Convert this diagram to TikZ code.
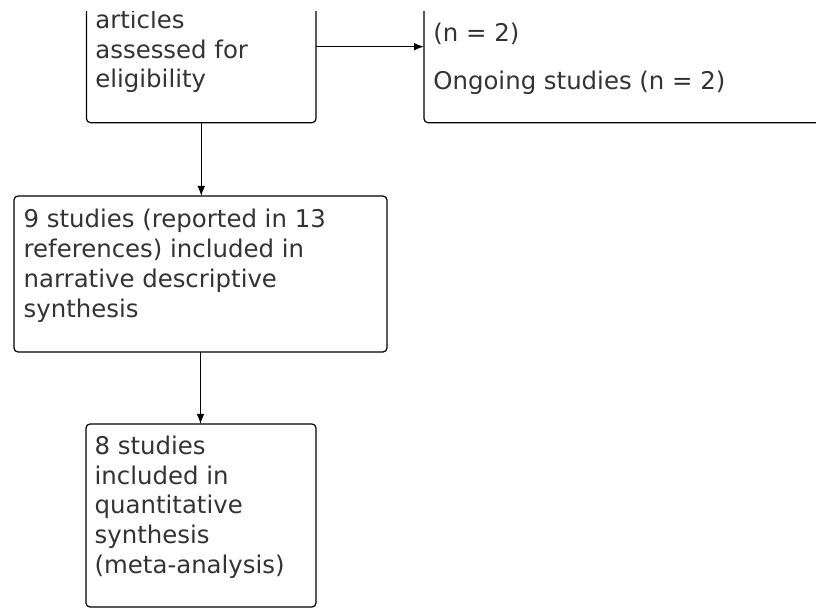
\documentclass[tikz,border=0pt]{standalone}
\usepackage{fontspec}
\setmainfont{DejaVu Sans}
\usetikzlibrary{positioning,arrows.meta}

\begin{document}
\begin{tikzpicture}[x=0.5pt,y=-0.5pt,
  box/.style={draw, line width=0.6pt, rounded corners=2pt, inner sep=0pt, outer sep=0pt},
  lbl/.style={inner sep=0pt, anchor=base west, text=black!80, font=\fontsize{12.2}{14.9}\selectfont},
  arr/.style={line width=0.6pt, -{Latex[length=5pt,width=3.8pt]}}]
\useasboundingbox (0,0) rectangle (816,608);
\clip (0,12) rectangle (816,608);
\node[box, anchor=south west, minimum width=114.75pt, minimum height=76pt] (fulltext) at (86.5,122.7) {};
\node[box, anchor=south west, minimum width=230pt, minimum height=76pt] (excluded) at (424,122.7) {};
\node[box, anchor=north west, minimum width=186.5pt, minimum height=78pt] (narrative) at (14,196) {};
\node[box, anchor=north west, minimum width=115pt, minimum height=91.5pt] (quant) at (86,424) {};
\node[lbl] (fulltextlbl) at (95,28.3) {\parbox[t]{105pt}{articles\\assessed for\\eligibility}};
\node[lbl] (excludedlbl) at (433,41.7) {\parbox[t]{200pt}{(n = 2)\\[9pt]Ongoing studies (n = 2)}};
\node[lbl] (narrativelbl) at (23.3,227.7) {\parbox[t]{180pt}{9 studies (reported in 13\\references) included in\\narrative descriptive\\synthesis}};
\node[lbl] (quantlbl) at (94.3,454.3) {\parbox[t]{105pt}{8 studies\\included in\\quantitative\\synthesis\\(meta-analysis)}};
\draw[arr] (fulltext) -- (excluded);
\draw[arr] (fulltext.south) -- (fulltext.south |- narrative.north);
\draw[arr] (narrative.south) -- (narrative.south |- quant.north);
\end{tikzpicture}
\end{document}
